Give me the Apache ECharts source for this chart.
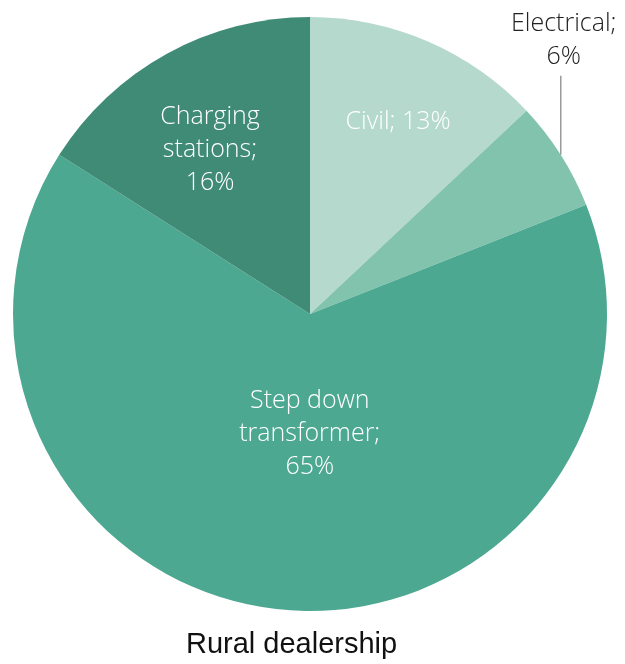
<!DOCTYPE html>
<html>
<head>
<meta charset="utf-8">
<script src="https://cdn.jsdelivr.net/npm/echarts@6/dist/echarts.min.js"></script>
<style>
html,body{margin:0;padding:0;background:#fff;}
#chart{width:625px;height:664px;}
</style>
</head>
<body>
<div id="chart"></div>
<script>
const categories = ['Civil', 'Electrical', 'Step down transformer', 'Charging stations'];
const labelTexts = ['Civil; 13%', 'Electrical;\n6%', 'Step down\ntransformer;\n65%', 'Charging\nstations;\n16%'];
const values = [13, 6, 65, 16];
const colors = ['#b5d9cc', '#82c3ad', '#4ca891', '#3f8b75'];
const chartTitle = 'Rural dealership';

// label nudges (style only)
const labelShift = [[28, -53], null, [14, -31], [-27, -31]];

const chart = echarts.init(document.getElementById('chart'), null, {renderer: 'canvas'});
const data = categories.map((c, i) => ({
  name: c,
  value: values[i],
  itemStyle: {color: colors[i]},
  label: i === 1 ? {
    position: 'outside',
    color: '#222',
  } : {position: 'inside', color: '#ffffff'},
  labelLine: i === 1 ? {show: true, lineStyle: {color: '#999', width: 1.5}} : {show: false}
}));

chart.setOption({
  animation: false,
  backgroundColor: '#ffffff',
  title: {
    text: chartTitle,
    left: 181,
    top: 625,
    textStyle: {fontFamily: 'Liberation Sans', fontSize: 29, fontWeight: 'normal', color: '#111'}
  },
  series: [{
    type: 'pie',
    center: [310, 314],
    radius: [0, 297],
    startAngle: 90,
    clockwise: true,
    avoidLabelOverlap: false,
    data: data,
    itemStyle: {borderWidth: 0},
    label: {
      formatter: p => labelTexts[p.dataIndex],
      fontFamily: 'Open Sans',
      fontWeight: 300,
      fontSize: 25,
      lineHeight: 33,
      align: 'center'
    },
    labelLayout: function (params) {
      const i = params.dataIndex;
      if (i === 1) {
        const p0 = params.labelLinePoints ? params.labelLinePoints[0] : null;
        if (!p0) return {};
        const top = p0[1] - 79;
        return {
          x: p0[0] + 3,
          y: top - 2,
          align: 'center',
          verticalAlign: 'bottom',
          labelLinePoints: [[p0[0], p0[1]], [p0[0], top], [p0[0], top]]
        };
      }
      const s = labelShift[i];
      return s ? {dx: s[0], dy: s[1]} : {};
    }
  }]
});
</script>
</body>
</html>
